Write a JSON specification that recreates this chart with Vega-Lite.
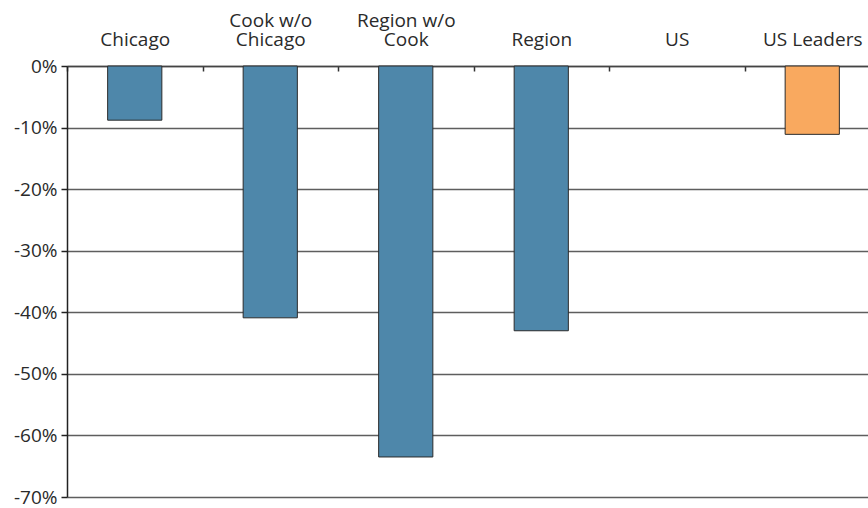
{
  "$schema": "https://vega.github.io/schema/vega-lite/v6.json",
  "autosize": {"type": "none"},
  "width": 801,
  "height": 431,
  "padding": {"left": 67, "top": 66, "right": 0, "bottom": 11},
  "background": "white",
  "config": {"view": {"stroke": null}, "font": "Open Sans"},
  "data": {"values": [
    {"area": "Chicago", "change": -8.8, "type": "Chicago area"},
    {"area": "Cook w/o Chicago", "change": -40.9, "type": "Chicago area"},
    {"area": "Region w/o Cook", "change": -63.5, "type": "Chicago area"},
    {"area": "Region", "change": -43.0, "type": "Chicago area"},
    {"area": "US", "change": 0, "type": "US"},
    {"area": "US Leaders", "change": -11.1, "type": "US Leaders"}
  ]},
  "mark": {"type": "bar", "width": {"band": 0.4}, "stroke": "#2b2b2b", "strokeWidth": 1},
  "encoding": {
    "x": {
      "field": "area", "type": "nominal", "sort": null,
      "scale": {"range": [0, 813], "paddingInner": 0, "paddingOuter": 0},
      "axis": {
        "orient": "top", "title": null, "labelAngle": 0,
        "tickBand": "extent", "tickSize": -5, "tickColor": "#333", "tickWidth": 1.5,
        "domainColor": "#444", "domainWidth": 1.5,
        "labelFont": "Open Sans", "labelFontSize": 19, "labelColor": "#2a2a2a",
        "labelBaseline": "alphabetic", "labelLineHeight": 19, "labelPadding": 45,
        "labelExpr": "datum.value == 'Cook w/o Chicago' ? ['Cook w/o', 'Chicago'] : datum.value == 'Region w/o Cook' ? ['Region w/o', 'Cook'] : ['', datum.value]",
        "grid": false
      }
    },
    "y": {
      "field": "change", "type": "quantitative",
      "scale": {"domain": [-70, 0], "nice": false},
      "axis": {
        "title": null, "values": [0, -10, -20, -30, -40, -50, -60, -70],
        "labelExpr": "datum.value + '%'",
        "labelFont": "Open Sans", "labelFontSize": 19, "labelColor": "#2a2a2a",
        "labelPadding": 4, "tickSize": 6, "tickColor": "#222", "tickWidth": 1.5,
        "domainColor": "#222", "domainWidth": 1.5,
        "grid": true, "gridColor": "#5e5e5e", "gridWidth": 1.5
      }
    },
    "strokeOpacity": {"condition": {"test": "datum.change == 0", "value": 0}, "value": 1},
    "color": {
      "field": "type", "type": "nominal", "legend": null,
      "scale": {"domain": ["Chicago area", "US", "US Leaders"], "range": ["#4e87aa", "#4e87aa", "#f9a95f"]}
    }
  }
}
